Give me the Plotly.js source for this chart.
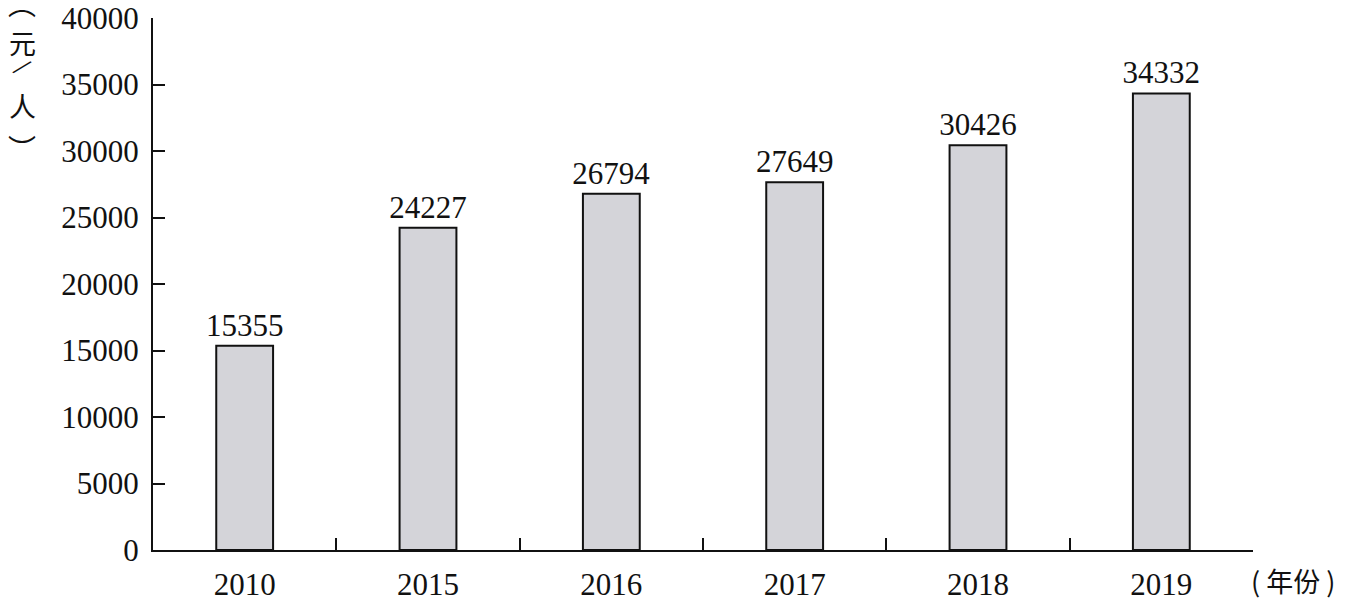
<!DOCTYPE html>
<html><head><meta charset="utf-8">
<script src="https://cdn.plot.ly/plotly-3.0.1.min.js"></script>
<style>html,body{margin:0;padding:0;background:#fff}</style>
</head><body>
<div id="chart" style="width:1362px;height:602px"></div>
<script>
const years = ["2010","2015","2016","2017","2018","2019"];
const income = [15355, 24227, 26794, 27649, 30426, 34332];
const yTickVals = [0,5000,10000,15000,20000,25000,30000,35000,40000];
const yTitleChars = ["︵", "元", "/", "人", "︶"];
const xTitle = "( 年份 )";

const serif = "Liberation Serif, Times New Roman, serif";
const cjk = "Noto Sans CJK SC, sans-serif";

const trace = {
  type: "bar",
  x: years,
  y: income,
  width: 0.31,
  marker: {color: "#d4d4d9", line: {color: "#111", width: 2}},
  text: income.map(String),
  textposition: "outside",
  constraintext: "none",
  cliponaxis: false,
  textfont: {family: serif, size: 31, color: "#111"},
  hoverinfo: "skip"
};

// vertical title layout: pixel anchor centres (layout only)
const plotL = 153, plotW = 1100, plotB = 550, plotH = 532;
const titleX = 22;
const titleYs = [3, 43, 67, 105, 148];
const titleAngles = [0, 0, 40, 0, 0];
const titleSizes = [28, 27, 30, 27, 28];
const titleFonts = [cjk, cjk, serif, cjk, cjk];

const titleAnns = yTitleChars.map((c, i) => ({
  text: c, xref: "paper", yref: "paper",
  x: (titleX - plotL) / plotW, y: (plotB - titleYs[i]) / plotH,
  xanchor: "center", yanchor: "middle", showarrow: false,
  textangle: titleAngles[i],
  font: {family: titleFonts[i], size: titleSizes[i], color: "#111"}
}));

const layout = {
  width: 1362, height: 602,
  margin: {l: 153, r: 109, t: 18, b: 52},
  paper_bgcolor: "#fff", plot_bgcolor: "#fff",
  showlegend: false,
  bargap: 0.69,
  xaxis: {
    type: "category",
    showline: true, linecolor: "#111", linewidth: 2,
    ticks: "inside", ticklen: 12, tickwidth: 2, tickcolor: "#111",
    tickson: "boundaries",
    showgrid: false, zeroline: false,
    tickfont: {family: serif, size: 31, color: "#111"},
    ticklabelstandoff: 6
  },
  yaxis: {
    range: [0, 40000],
    tickvals: yTickVals,
    ticktext: yTickVals.map(String),
    showline: true, linecolor: "#111", linewidth: 2,
    ticks: "inside", ticklen: 12, tickwidth: 2, tickcolor: "#111",
    showgrid: false, zeroline: false,
    tickfont: {family: serif, size: 31, color: "#111"},
    ticklabelstandoff: 6
  },
  annotations: titleAnns.concat([
    {text: xTitle, xref: "paper", yref: "paper", x: 1.0, xshift: -4, y: 0, yshift: -30,
     xanchor: "left", yanchor: "middle", showarrow: false,
     font: {family: cjk, size: 27, color: "#111"}}
  ])
};

Plotly.newPlot("chart", [trace], layout, {displayModeBar: false, staticPlot: true});
</script>
</body></html>
